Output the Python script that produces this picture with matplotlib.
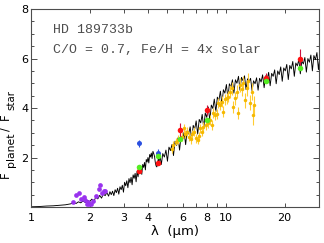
import matplotlib
matplotlib.use("Agg")
import matplotlib.pyplot as plt
from matplotlib.ticker import FixedLocator, FuncFormatter, MultipleLocator, NullLocator

plt.rcParams['font.family'] = ['DejaVu Sans']

# model spectrum (C/O = 0.7, Fe/H = 4x solar)
model_wl = [1.00, 1.10, 1.20, 1.30, 1.40, 1.50, 1.60,
            1.65, 1.70, 1.75, 1.80, 1.85, 1.90, 1.95, 2.00, 2.05, 2.10, 2.15, 2.20,
            2.25, 2.30, 2.35, 2.40, 2.45, 2.50,
            2.54, 2.58, 2.62, 2.66, 2.70, 2.74, 2.78, 2.82, 2.86, 2.90, 2.94, 2.98,
            3.02, 3.06, 3.10, 3.14, 3.18, 3.22, 3.26, 3.30, 3.34, 3.38, 3.42, 3.46, 3.50,
            3.54, 3.58, 3.62, 3.66, 3.70, 3.74, 3.78, 3.82, 3.86, 3.90, 3.94, 3.98,
            4.02, 4.06, 4.10, 4.14, 4.18, 4.22, 4.26, 4.30,
            4.34, 4.38, 4.42, 4.46, 4.50, 4.54,
            4.58, 4.66, 4.74, 4.83, 4.92, 5.01, 5.10, 5.19, 5.28, 5.38, 5.48, 5.58,
            5.68, 5.78, 5.88, 5.99, 6.10, 6.21, 6.32, 6.43, 6.55, 6.67, 6.79, 6.91,
            7.03, 7.16, 7.29, 7.42, 7.55, 7.69, 7.83, 7.97, 8.11, 8.26, 8.41, 8.56,
            8.71, 8.87, 9.03, 9.19, 9.36, 9.53, 9.70, 9.87, 10.05, 10.23, 10.41, 10.60,
            10.79, 10.98, 11.18, 11.38, 11.59, 11.80, 12.01, 12.23, 12.45, 12.67, 12.90, 13.13,
            13.37, 13.61, 13.85, 14.10, 14.35, 14.61, 14.87, 15.14,
            15.41, 15.69, 15.97, 16.26, 16.55, 16.85, 17.15, 17.46, 17.77, 18.09, 18.42, 18.75,
            19.09, 19.43, 19.78, 20.14, 20.50, 20.87, 21.24, 21.62, 22.01, 22.41, 22.81, 23.22,
            23.64, 24.06, 24.49, 24.93, 25.38, 25.84, 26.30, 26.77, 27.25, 27.74, 28.24, 28.75,
            29.27, 29.80, 30.30]
model_flux = [0.01, 0.02, 0.04, 0.05, 0.07, 0.09, 0.13,
              0.18, 0.14, 0.21, 0.17, 0.25, 0.18, 0.27, 0.22, 0.32, 0.23, 0.40, 0.33,
              0.47, 0.36, 0.53, 0.46, 0.58, 0.44,
              0.62, 0.50, 0.64, 0.46, 0.70, 0.58, 0.76, 0.52, 0.82, 0.70, 0.88, 0.60,
              1.00, 0.86, 1.06, 0.78, 1.15, 0.98, 1.20, 0.90, 1.30, 1.16, 1.36, 1.02, 1.45,
              1.22, 1.56, 1.42, 1.63, 1.32, 1.72, 1.60, 1.80, 1.50, 1.92, 1.82, 2.00,
              1.78, 2.12, 2.02, 2.18, 1.96, 2.25, 2.16, 2.05,
              1.80, 1.66, 1.62, 1.80, 1.96, 1.82,
              2.10, 1.72, 2.16, 2.02, 2.30, 1.85, 2.42, 2.28, 2.52, 2.08, 2.66, 2.48,
              2.80, 2.30, 2.86, 2.75, 3.02, 2.52, 3.08, 2.95, 3.24, 2.70, 3.30, 3.15,
              3.48, 2.95, 3.54, 3.40, 3.74, 3.20, 3.80, 3.62, 4.04, 3.50, 4.12, 3.98,
              4.36, 3.85, 4.44, 4.30, 4.68, 4.15, 4.74, 4.60, 4.95, 4.40, 4.98, 4.85,
              5.14, 4.60, 5.14, 5.00, 5.28, 4.72, 5.24, 5.10, 5.30, 4.75, 5.18, 5.05,
              5.20, 4.70, 5.10, 4.98, 5.22, 4.72, 5.20, 5.05,
              5.34, 4.82, 5.30, 5.15, 5.44, 4.90, 5.40, 5.28, 5.54, 4.98, 5.50, 5.35,
              5.66, 5.08, 5.62, 5.50, 5.76, 5.15, 5.72, 5.58, 5.88, 5.28, 5.82, 5.70,
              5.96, 5.38, 5.90, 5.78, 6.04, 5.45, 6.00, 5.85, 6.14, 5.50, 6.12, 5.95,
              6.24, 5.55, 6.10]

# Spitzer photometry (red), model band-averaged (green)
phot_wl = [3.6, 4.5, 5.8, 8.0, 16.0, 24.0]
phot_obs = [1.45, 1.79, 3.11, 3.92, 5.22, 5.99]
phot_err = [0.05, 0.06, 0.30, 0.20, 0.20, 0.38]
phot_model = [1.60, 2.07, 2.73, 3.51, 5.09, 5.60]

# warm photometry (blue)
warm_wl = [3.6, 4.5]
warm_obs = [2.57, 2.20]
warm_err = [0.15, 0.13]

# near-IR spectrum (purple)
nir_wl = [1.64, 1.70, 1.76, 1.81, 1.86, 1.89, 1.93, 1.95, 1.99, 2.03, 2.09,
          2.16, 2.22, 2.27, 2.31, 2.37, 2.41]
nir_flux = [0.19, 0.50, 0.55, 0.31, 0.39, 0.28, 0.12, 0.20, 0.11, 0.12, 0.26,
            0.46, 0.71, 0.88, 0.58, 0.63, 0.65]

# IRS spectrum (yellow)
irs_wl = [5.26, 5.36, 5.51, 5.69, 5.97, 6.11, 6.16, 6.28, 6.45, 6.61, 6.71, 6.87,
          6.98, 7.15, 7.26, 7.35, 7.50, 7.64, 7.86, 8.05, 8.27, 8.44, 8.61, 8.78,
          8.95, 9.13, 9.31, 9.50, 9.68, 9.88, 10.08, 10.27, 10.48, 10.69, 10.90, 11.12,
          11.34, 11.57, 11.80, 12.03, 12.27, 12.52, 12.76, 13.02, 13.28, 13.54, 13.81, 13.98]
irs_flux = [2.33, 2.51, 2.64, 2.71, 2.84, 3.18, 2.95, 3.04, 2.84, 2.73, 2.95, 3.04,
            2.77, 2.71, 2.87, 3.18, 3.04, 3.25, 3.31, 3.38, 3.52, 3.31, 3.81, 3.72,
            3.76, 4.19, 4.12, 4.26, 3.85, 4.35, 4.39, 4.46, 4.66, 4.79, 4.05, 4.39,
            4.66, 3.81, 4.93, 4.75, 5.00, 4.32, 4.79, 5.10, 4.22, 4.66, 3.72, 4.12]
irs_err = [0.15, 0.15, 0.15, 0.18, 0.18, 0.18, 0.18, 0.18, 0.18, 0.18, 0.18, 0.18,
           0.18, 0.18, 0.18, 0.18, 0.18, 0.2, 0.2, 0.2, 0.2, 0.2, 0.2, 0.2,
           0.2, 0.2, 0.22, 0.22, 0.22, 0.22, 0.22, 0.22, 0.25, 0.25, 0.25, 0.25,
           0.25, 0.25, 0.28, 0.28, 0.28, 0.3, 0.3, 0.3, 0.32, 0.35, 0.4, 0.35]

xlabels = [1, 2, 3, 4, 6, 8, 10, 20]

fig = plt.figure(figsize=(3.24, 2.43), dpi=100)
ax = fig.add_axes([0.0957, 0.148, 0.8889, 0.815])

ax.plot(model_wl, model_flux, color='black', lw=0.65, zorder=2)
ax.errorbar(irs_wl, irs_flux, yerr=irs_err, fmt='o', ms=2.5, color='#f5b800',
            ecolor='#ffcc33', elinewidth=0.8, capsize=1.3, capthick=0.8, mew=0, zorder=3)
ax.plot(nir_wl, nir_flux, 'o', ms=3.4, color='#9933ee', mew=0, zorder=3)
ax.errorbar(warm_wl, warm_obs, yerr=warm_err, fmt='o', ms=3.6, color='#2a4fe0',
            ecolor='#2a4fe0', elinewidth=0.8, capsize=1.5, capthick=0.8, mew=0, zorder=4)
ax.errorbar(phot_wl, phot_obs, yerr=phot_err, fmt='o', ms=4.0, color='#ff1010',
            ecolor='#cc1040', elinewidth=0.8, capsize=1.5, capthick=0.8, mew=0, zorder=4)
ax.plot(phot_wl, phot_model, 'o', ms=4.0, color='#55ee22', mew=0, zorder=5)

ax.set_xscale('log')
ax.set_xlim(1, 30)
ax.set_ylim(0, 8)

ax.xaxis.set_major_locator(FixedLocator([1, 2, 3, 4, 5, 6, 7, 8, 9, 10, 20, 30]))
ax.xaxis.set_minor_locator(NullLocator())
ax.xaxis.set_major_formatter(FuncFormatter(lambda v, p: '%d' % v if round(v) in xlabels else ''))
ax.yaxis.set_major_locator(FixedLocator([2, 4, 6, 8]))
ax.yaxis.set_minor_locator(MultipleLocator(0.5))
ax.tick_params(which='both', direction='in', top=True, right=True, labelsize=8,
               width=0.7, color='0.3', pad=2)
ax.tick_params(axis='x', which='major', length=2.8, pad=4.5)
ax.tick_params(axis='y', which='major', length=4.3)
ax.tick_params(axis='y', which='minor', length=2.2)
for s in ax.spines.values():
    s.set_linewidth(0.8)
    s.set_color('0.3')

ax.set_xlabel('λ  (µm)', fontsize=9.5, labelpad=1.5)

# y label built from pieces so the subscripts stay near full size
ykw = dict(rotation=90, rotation_mode='anchor', ha='left', va='baseline')
fig.text(9 / 324, 65 / 243, 'F', fontsize=8.5, **ykw)
fig.text(14 / 324, 76 / 243, 'planet', fontsize=7.8, **ykw)
fig.text(9 / 324, 112 / 243, '/', fontsize=8.5, **ykw)
fig.text(9 / 324, 123 / 243, 'F', fontsize=8.5, **ykw)
fig.text(14 / 324, 133 / 243, 'star', fontsize=7.3, **ykw)

ax.text(0.075, 0.895, 'HD 189733b', transform=ax.transAxes, family='Liberation Mono',
        fontsize=9.5, color='0.3', va='center')
ax.text(0.075, 0.795, 'C/O = 0.7, Fe/H = 4x solar', transform=ax.transAxes,
        family='Liberation Mono', fontsize=9.5, color='0.3', va='center')

fig.savefig('out.png', dpi=100)
